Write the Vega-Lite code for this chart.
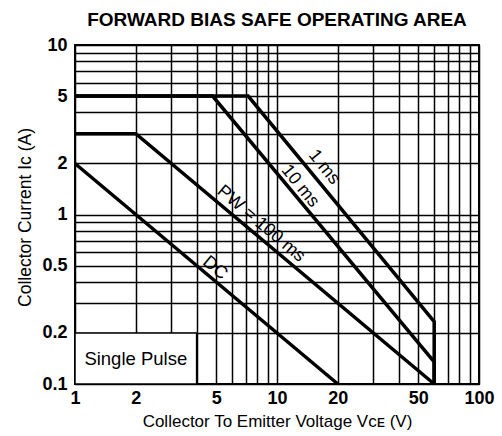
{
  "$schema": "https://vega.github.io/schema/vega-lite/v6.json",
  "autosize": "none",
  "width": 404,
  "height": 339,
  "padding": {"left": 75, "top": 45, "right": 23, "bottom": 52},
  "background": "white",
  "title": {
    "text": "FORWARD BIAS SAFE OPERATING AREA",
    "font": "Liberation Sans",
    "fontSize": 19,
    "fontWeight": "bold",
    "color": "black",
    "frame": "group",
    "anchor": "middle",
    "baseline": "alphabetic",
    "offset": -9
  },
  "config": {
    "view": {"stroke": "black", "strokeWidth": 2},
    "font": "Liberation Sans",
    "axis": {
      "grid": true,
      "gridColor": "black",
      "gridOpacity": 1,
      "gridWidth": 1.5,
      "domain": false,
      "ticks": false,
      "labelColor": "black",
      "labelFont": "Liberation Sans",
      "labelFontSize": 18,
      "labelFontWeight": "bold",
      "titleColor": "black",
      "titleFont": "Liberation Sans",
      "titleFontWeight": "normal",
      "labelOverlap": false,
      "labelFlush": false
    }
  },
  "datasets": {
    "curves": [
      {"curve": "1 ms", "order": 1, "v": 1, "i": 5},
      {"curve": "1 ms", "order": 2, "v": 7.2, "i": 5},
      {"curve": "1 ms", "order": 3, "v": 60, "i": 0.233},
      {"curve": "1 ms", "order": 4, "v": 60, "i": 0.1},
      {"curve": "10 ms", "order": 1, "v": 1, "i": 5},
      {"curve": "10 ms", "order": 2, "v": 4.8, "i": 5},
      {"curve": "10 ms", "order": 3, "v": 60, "i": 0.135},
      {"curve": "10 ms", "order": 4, "v": 60, "i": 0.1},
      {"curve": "100 ms", "order": 1, "v": 1, "i": 3},
      {"curve": "100 ms", "order": 2, "v": 2, "i": 3},
      {"curve": "100 ms", "order": 3, "v": 60, "i": 0.1},
      {"curve": "DC", "order": 1, "v": 1, "i": 2},
      {"curve": "DC", "order": 2, "v": 20, "i": 0.1}
    ],
    "labels": [
      {"label": "1 ms", "group": "steep", "v": 17.1, "i": 1.9},
      {"label": "10 ms", "group": "steep", "v": 13.0, "i": 1.47},
      {"label": "PW = 100 ms", "group": "flat", "v": 8.33, "i": 0.88},
      {"label": "DC", "group": "flat", "v": 4.93, "i": 0.483}
    ],
    "box": [
      {"v1": 1, "v2": 4, "i1": 0.1, "i2": 0.2, "text": "Single Pulse", "vt": 2, "it": 0.141}
    ]
  },
  "layer": [
    {
      "data": {"name": "box"},
      "mark": {"type": "rect", "fill": "white", "stroke": "black", "strokeWidth": 1.5},
      "encoding": {
        "x": {
          "field": "v1", "type": "quantitative",
          "scale": {"type": "log", "domain": [1, 100], "nice": false},
          "axis": {
            "values": [1,2,3,4,5,6,7,8,9,10,20,30,40,50,60,70,80,90,100],
            "labelExpr": "indexof([1,2,5,10,20,50,100], datum.value) >= 0 ? datum.label : ''",
            "format": "~g",
            "labelPadding": 5,
            "title": "Collector To Emitter Voltage  Vᴄᴇ (V)",
            "titleFontSize": 17,
            "titleY": 37,
            "titleBaseline": "middle"
          }
        },
        "x2": {"field": "v2"},
        "y": {
          "field": "i1", "type": "quantitative",
          "scale": {"type": "log", "domain": [0.1, 10], "nice": false},
          "axis": {
            "values": [0.1,0.2,0.3,0.4,0.5,0.6,0.7,0.8,0.9,1,2,3,4,5,6,7,8,9,10],
            "labelExpr": "indexof([0.1,0.2,0.5,1,2,5,10], datum.value) >= 0 ? datum.label : ''",
            "format": "~g",
            "labelPadding": 8,
            "title": "Collector Current  Iᴄ (A)",
            "titleFontSize": 17.5,
            "titleX": -50,
            "titleY": 172,
            "titleAngle": 270,
            "titleAlign": "center",
            "titleBaseline": "middle"
          }
        },
        "y2": {"field": "i2"}
      }
    },
    {
      "data": {"name": "box"},
      "mark": {"type": "text", "fontSize": 18.5, "font": "Liberation Sans", "color": "black", "align": "center", "baseline": "middle"},
      "encoding": {
        "x": {"field": "vt", "type": "quantitative"},
        "y": {"field": "it", "type": "quantitative"},
        "text": {"field": "text"}
      }
    },
    {
      "data": {"name": "curves"},
      "mark": {"type": "line", "color": "black", "strokeWidth": 3.5, "strokeJoin": "miter"},
      "encoding": {
        "x": {"field": "v", "type": "quantitative"},
        "y": {"field": "i", "type": "quantitative"},
        "detail": {"field": "curve"},
        "order": {"field": "order"}
      }
    },
    {
      "data": {"name": "labels"},
      "transform": [{"filter": "datum.group == 'steep'"}],
      "mark": {"type": "text", "angle": 51, "fontSize": 18, "font": "Liberation Sans", "color": "black", "align": "center", "baseline": "middle"},
      "encoding": {
        "x": {"field": "v", "type": "quantitative"},
        "y": {"field": "i", "type": "quantitative"},
        "text": {"field": "label"}
      }
    },
    {
      "data": {"name": "labels"},
      "transform": [{"filter": "datum.group == 'flat'"}],
      "mark": {"type": "text", "angle": 40, "fontSize": 18, "font": "Liberation Sans", "color": "black", "align": "center", "baseline": "middle"},
      "encoding": {
        "x": {"field": "v", "type": "quantitative"},
        "y": {"field": "i", "type": "quantitative"},
        "text": {"field": "label"}
      }
    }
  ]
}
